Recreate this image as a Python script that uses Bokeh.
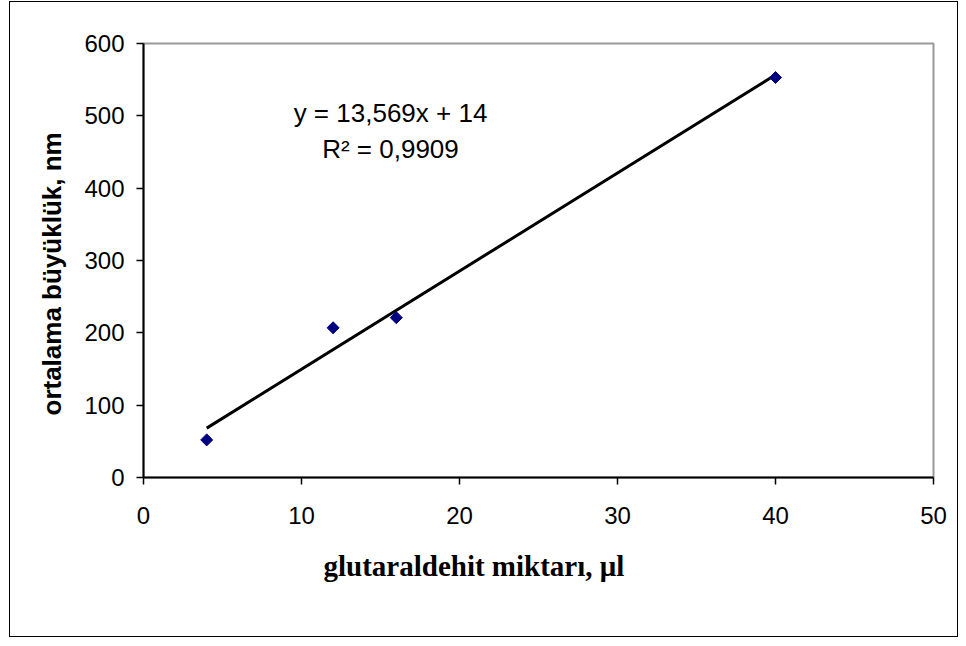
import numpy as np
from bokeh.plotting import figure
from bokeh.models import Range1d, FixedTicker, Label, ColumnDataSource, Title
from bokeh.embed import file_html
from bokeh.resources import INLINE

# Data
glutaraldehit_ul = [4, 12, 16, 40]
ortalama_nm = [52, 207, 221, 553]
x_ticks = [0, 10, 20, 30, 40, 50]
y_ticks = [0, 100, 200, 300, 400, 500, 600]
slope = 13.569
intercept = 14
r2_text = "0,9909"
eq_text = "y = 13,569x + 14"
x_label = "glutaraldehit miktarı, μl"
y_label = "ortalama büyüklük, nm"

W, H = 947, 634
FRAME_LEFT, FRAME_BOTTOM = 143, 477  # image pixels
p = figure(width=W, height=H, output_backend="svg", toolbar_location=None,
           x_range=Range1d(0, 50), y_range=Range1d(0, 600),
           min_border_left=133, min_border_right=24, min_border_top=41, min_border_bottom=159)
p.margin = (2, 0, 0, 10)
p.styles = {"outline": "1px solid #000000"}
p.background_fill_color = "white"
p.border_fill_color = "white"
p.xgrid.visible = False
p.ygrid.visible = False
p.outline_line_color = "#999999"
p.outline_line_width = 2

for ax, ticks in ((p.xaxis[0], x_ticks), (p.yaxis[0], y_ticks)):
    ax.ticker = FixedTicker(ticks=ticks)
    ax.minor_tick_line_color = None
    ax.major_tick_in = 0
    ax.major_tick_out = 7
    ax.major_tick_line_color = "black"
    ax.major_tick_line_width = 1.5
    ax.axis_line_color = "black"
    ax.axis_line_width = 2
    ax.major_label_text_font = "Liberation Sans"
    ax.major_label_text_font_size = "24px"
    ax.major_label_text_color = "black"
p.xaxis[0].major_label_standoff = 22
p.yaxis[0].major_label_standoff = 12

# axis titles
p.add_layout(Title(text=x_label, align="left", offset=180, standoff=42,
                   text_font="Liberation Serif", text_font_style="bold",
                   text_font_size="29px", text_color="black"), "below")
p.add_layout(Title(text=y_label, align="left", offset=62, standoff=29,
                   text_font="Liberation Sans", text_font_style="bold",
                   text_font_size="26px", text_color="black"), "left")

# trend line
tx = [min(glutaraldehit_ul), max(glutaraldehit_ul)]
ty = [slope * v + intercept for v in tx]
p.line(tx, ty, line_color="black", line_width=3)

src = ColumnDataSource(dict(x=glutaraldehit_ul, y=ortalama_nm))
p.scatter("x", "y", source=src, marker="square", size=8.5, angle=np.pi / 4,
          fill_color="#000080", line_color="#000080")

def sx(img_x):
    return img_x - FRAME_LEFT

def sy(img_y):
    return FRAME_BOTTOM - img_y

p.add_layout(Label(x=sx(390), y=sy(112), x_units="screen", y_units="screen",
                   text=eq_text, text_align="center", text_baseline="alphabetic",
                   text_font="Liberation Sans", text_font_size="26px", text_color="black"))
p.add_layout(Label(x=sx(390), y=sy(148), x_units="screen", y_units="screen",
                   text="R² = " + r2_text, text_align="center", text_baseline="alphabetic",
                   text_font="Liberation Sans", text_font_size="26px", text_color="black"))

open("out.html", "w").write(file_html(p, INLINE))
